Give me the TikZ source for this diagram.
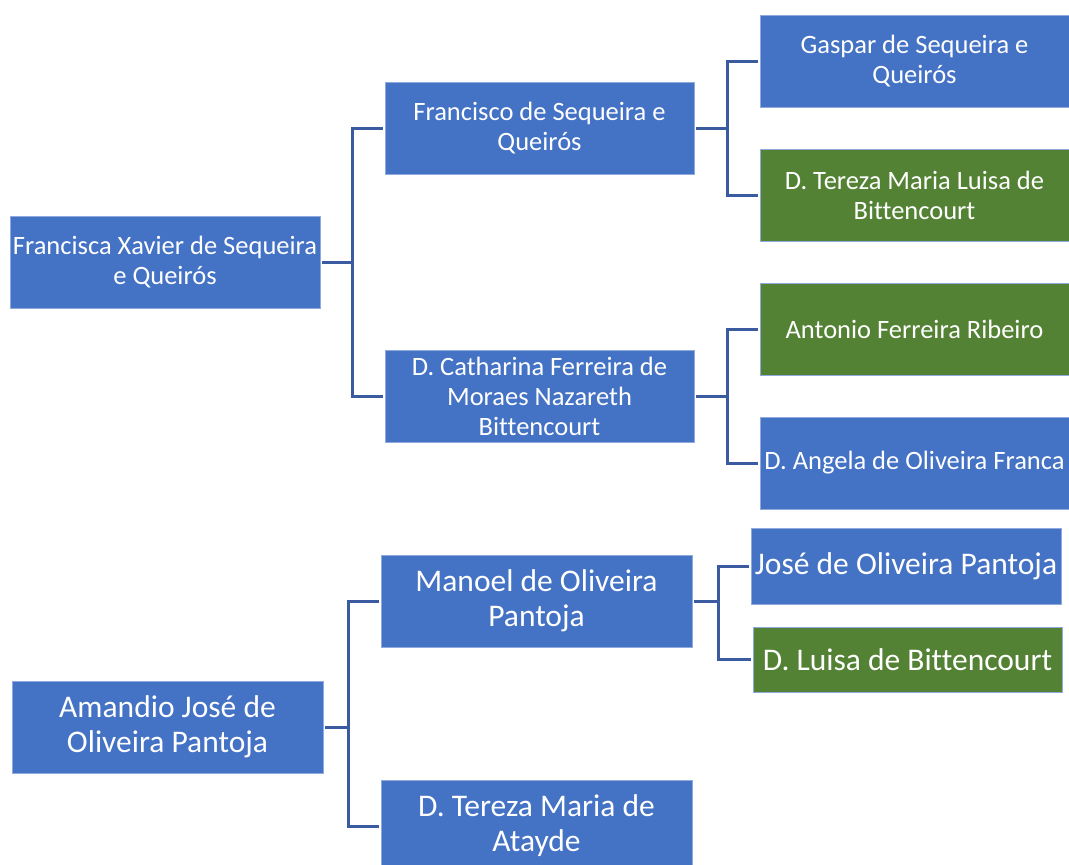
\documentclass[tikz,border=0pt]{standalone}
\usepackage{fontspec}
\setmainfont{Carlito}[Ligatures={NoCommon}]
\definecolor{boxblue}{HTML}{4472C4}
\definecolor{boxgreen}{HTML}{548235}
\definecolor{boxedge}{RGB}{143,170,220}
\definecolor{linkblue}{RGB}{59,91,160}
\tikzset{
  person/.style={rectangle, inner sep=0pt, draw=boxedge, line width=0.8pt, text=white, align=center,
    minimum width=310pt, minimum height=92pt, fill=boxblue},
  wife/.style={person, fill=boxgreen},
  small/.style={font=\fontsize{26.5}{30}\selectfont},
  big/.style={font=\fontsize{31.5}{35}\selectfont},
  link/.style={draw=linkblue, line width=3pt, shorten <=1.5pt, shorten >=2pt}
}
\begin{document}
\begin{tikzpicture}[x=1pt,y=-1pt]
\useasboundingbox (0,0) rectangle (1069,865);
% top family
\node[person,small] (A) at (165,262) {Francisca Xavier de Sequeira\\e Queirós};
\node[person,small,minimum width=309pt] (B) at (539.5,128) {Francisco de Sequeira e\\Queirós};
\node[person,small,minimum width=309pt] (C) at (539.5,396) {D. Catharina Ferreira de\\Moraes Nazareth\\Bittencourt};
\node[person,small,minimum width=309pt] (D) at (914.5,61) {Gaspar de Sequeira e\\Queirós};
\node[wife,small,minimum width=309pt] (E) at (914.5,195) {D. Tereza Maria Luisa de\\Bittencourt};
\node[wife,small,minimum width=309pt] (F) at (914.5,329) {Antonio Ferreira Ribeiro};
\node[person,small,minimum width=309pt] (G) at (914.5,463) {D. Angela de Oliveira Franca};
% bottom family
\node[person,big,minimum width=311pt] (H) at (167.5,727) {Amandio José de\\Oliveira Pantoja};
\node[person,big,minimum width=311pt] (I) at (536.5,601) {Manoel de Oliveira\\Pantoja};
\node[person,big,minimum width=311pt] (J) at (536.5,826) {D. Tereza Maria de\\Atayde};
\node[person,big,minimum width=310pt,minimum height=76pt] (K) at (906,566) {José de Oliveira Pantoja};
\node[wife,big,minimum width=309pt,minimum height=65pt] (L) at (907.5,659.5) {D. Luisa de Bittencourt};
% connectors
\draw[link] (A.east) -- (352,262) |- (B.west);
\draw[link] (A.east) -- (352,262) |- (C.west);
\draw[link] (B.east) -- (727,128) |- (D.west);
\draw[link] (B.east) -- (727,128) |- (E.west);
\draw[link] (C.east) -- (727,396) |- (F.west);
\draw[link] (C.east) -- (727,396) |- (G.west);
\draw[link] (H.east) -- (348,727) |- (I.west);
\draw[link] (H.east) -- (348,727) |- (J.west);
\draw[link] (I.east) -- (718,601) |- (K.west);
\draw[link] (I.east) -- (718,601) |- (L.west);
\end{tikzpicture}
\end{document}
